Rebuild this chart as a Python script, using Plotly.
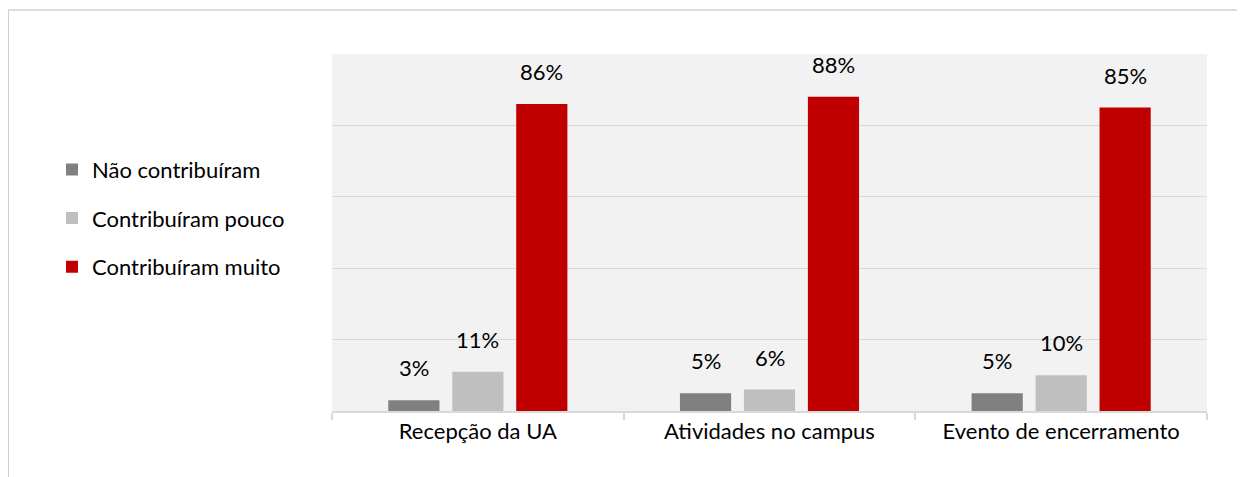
import plotly.graph_objects as go

categories = ['Recepção da UA', 'Atividades no campus', 'Evento de encerramento']
series_names = ['Não contribuíram', 'Contribuíram pouco', 'Contribuíram muito']
nao = [0.03, 0.05, 0.05]
pouco = [0.11, 0.06, 0.10]
muito = [0.86, 0.88, 0.85]
colors = ['#808080', '#bfbfbf', '#c00000']

FONT = 'Lato'
SIZE = 22
fig = go.Figure()

all_values = [nao, pouco, muito]
for i, (name, vals, col) in enumerate(zip(series_names, all_values, colors)):
    fig.add_bar(x=categories, y=vals, name=name, marker_color=col,
                marker_line_width=0, legendgroup=f'g{i}')

# data labels sit above the bars, offset per series within the group
shift = [-64, 0, 64]
for i, vals in enumerate(all_values):
    for cat, v in zip(categories, vals):
        fig.add_annotation(x=cat, y=v, text=f'{round(v * 100)}%', showarrow=False,
                           xshift=shift[i], yshift=17, yanchor='bottom',
                           font=dict(family=FONT, size=SIZE, color='#000000'))

# outer chart frame (only its top and left edges are in view)
frame = dict(color='#d0d0d0', width=1.5)
fig.add_shape(type='line', xref='paper', yref='paper', x0=-0.370, x1=1.1,
              y0=1.123, y1=1.123, line=frame, layer='below')
fig.add_shape(type='line', xref='paper', yref='paper', x0=-0.370, x1=-0.370,
              y0=-0.3, y1=1.123, line=frame, layer='below')

fig.update_layout(
    width=1237, height=469,
    margin=dict(l=324, r=38, t=46, b=66),
    paper_bgcolor='white', plot_bgcolor='#f2f2f2',
    barmode='group', bargap=0.342, bargroupgap=0.2,
    font=dict(family=FONT, size=SIZE, color='#000000'),
    showlegend=True,
    legend=dict(x=-0.32, y=0.54, xanchor='left', yanchor='middle',
                tracegroupgap=17, font=dict(family=FONT, size=SIZE),
                bgcolor='rgba(0,0,0,0)'),
)
fig.update_xaxes(showline=True, linecolor='#d9d9d9', linewidth=2,
                 ticks='outside', tickson='boundaries', ticklen=7,
                 tickcolor='#d9d9d9', tickwidth=2,
                 tickfont=dict(family=FONT, size=SIZE), showgrid=False)
fig.update_yaxes(range=[0, 1], dtick=0.2, showticklabels=False,
                 gridcolor='#d9d9d9', gridwidth=1, zeroline=False)

fig.write_html('out.html')
